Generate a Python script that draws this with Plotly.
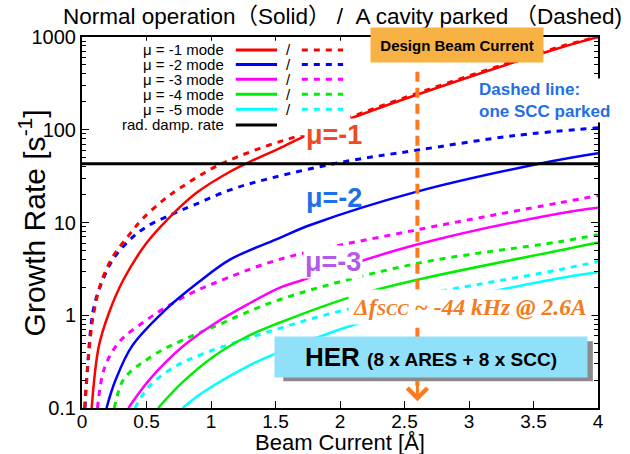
import plotly.graph_objects as go

# Beam current [A] vs growth rate [1/s]
# normal operation (solid)
mu1_x = [0.075, 0.13, 0.21, 0.32, 0.5, 0.66, 0.89, 1.15, 1.30, 1.53, 1.74, 2.16, 2.59, 3.7, 4.0]
mu1_y = [0.1, 0.46, 1.07, 2.4, 6.0, 10.7, 21, 35.5, 45, 63, 87, 145, 237, 760, 1000]
mu2_x = [0.19, 0.26, 0.39, 0.64, 0.90, 1.15, 1.53, 1.77, 2.59, 3.63, 4.0]
mu2_y = [0.1, 0.2, 0.47, 1.12, 2.25, 4.0, 6.8, 9.4, 21.4, 45.5, 56]
mu3_x = [0.36, 0.52, 0.78, 1.02, 1.28, 1.53, 1.71, 2.59, 3.7, 4.0]
mu3_y = [0.1, 0.2, 0.46, 0.80, 1.30, 1.97, 2.4, 5.75, 12.5, 14.4]
mu4_x = [0.59, 0.78, 1.02, 1.28, 1.53, 2.1, 2.59, 3.7, 4.0]
mu4_y = [0.1, 0.19, 0.36, 0.59, 0.83, 1.6, 2.4, 5.0, 6.1]
mu5_x = [0.78, 0.93, 1.28, 1.51, 2.23, 3.7, 4.0]
mu5_y = [0.1, 0.145, 0.28, 0.39, 0.89, 2.5, 2.9]

# one SCC parked (dashed)
mu1p_x = [0.02, 0.05, 0.088, 0.15, 0.24, 0.37, 0.47, 0.63, 0.76, 1.02, 1.22, 1.46, 1.69, 2.16, 2.59, 3.7, 4.0]
mu1p_y = [0.1, 0.35, 1.0, 2.3, 4.3, 7.5, 11, 17.4, 23.5, 39, 52, 69, 87, 150, 245, 780, 1000]
mu2p_x = [0.023, 0.036, 0.088, 0.15, 0.24, 0.37, 0.50, 0.71, 0.87, 1.15, 1.46, 2.05, 2.59, 3.34, 4.0]
mu2p_y = [0.1, 0.2, 1.15, 2.2, 4.0, 6.5, 9.0, 12.5, 15.5, 22.5, 30, 45.7, 60, 86, 105]
mu3p_x = [0.12, 0.17, 0.26, 0.33, 0.47, 0.62, 0.85, 1.02, 1.53, 2.59, 3.7, 4.0]
mu3p_y = [0.1, 0.26, 0.46, 0.59, 0.83, 1.15, 1.74, 2.2, 4.0, 8.3, 16.3, 19.5]
mu4p_x = [0.25, 0.31, 0.38, 0.47, 0.62, 0.78, 1.02, 1.53, 2.59, 3.7, 4.0]
mu4p_y = [0.1, 0.19, 0.25, 0.31, 0.42, 0.54, 0.75, 1.47, 3.6, 6.2, 7.4]
mu5p_x = [0.41, 0.52, 0.72, 0.93, 1.5, 2.05, 3.7, 4.0]
mu5p_y = [0.1, 0.17, 0.28, 0.38, 0.70, 1.15, 3.1, 3.8]

rad_damp_x = [0, 4]
rad_damp_y = [43, 43]

DESIGN_CURRENT = 2.6

modes = [
    ('\u03bc = -1 mode', '#ff0000', mu1_x, mu1_y, mu1p_x, mu1p_y),
    ('\u03bc = -2 mode', '#0000ff', mu2_x, mu2_y, mu2p_x, mu2p_y),
    ('\u03bc = -3 mode', '#ff00ff', mu3_x, mu3_y, mu3p_x, mu3p_y),
    ('\u03bc = -4 mode', '#00ee00', mu4_x, mu4_y, mu4p_x, mu4p_y),
    ('\u03bc = -5 mode', '#00ffff', mu5_x, mu5_y, mu5p_x, mu5p_y),
]

FONT = 'Liberation Sans, Arial, Noto Sans CJK JP, sans-serif'
DASH = '6px,6px'

fig = go.Figure()

# dashed first so the solid lines sit on top
for name, color, sx, sy, dx, dy in reversed(modes):
    fig.add_trace(go.Scatter(x=dx, y=dy, mode='lines', line_shape='spline',
                             line=dict(color=color, width=3, dash=DASH),
                             name=name + ' (parked)'))
for name, color, sx, sy, dx, dy in reversed(modes):
    fig.add_trace(go.Scatter(x=sx, y=sy, mode='lines', line_shape='spline',
                             line=dict(color=color, width=2.5), name=name))

fig.add_trace(go.Scatter(x=rad_damp_x, y=rad_damp_y, mode='lines',
                         line=dict(color='black', width=3), name='rad. damp. rate'))

shapes = []
annotations = []

# hand-made legend (solid / dashed per entry), paper coordinates
shapes.append(dict(type='rect', xref='paper', yref='paper', x0=0.06, x1=0.52,
                   y0=0.735, y1=0.99, fillcolor='white', line_width=0, layer='above'))
row_y = [0.965, 0.926, 0.886, 0.846, 0.805]
for (name, color, *_), ry in zip(modes, row_y):
    annotations.append(dict(text=name, xref='paper', yref='paper', x=0.279, y=ry,
                            xanchor='right', yanchor='middle', showarrow=False,
                            font=dict(family=FONT, size=15, color='black')))
    shapes.append(dict(type='line', xref='paper', yref='paper', x0=0.298, x1=0.378,
                       y0=ry, y1=ry, line=dict(color=color, width=3), layer='above'))
    annotations.append(dict(text='/', xref='paper', yref='paper', x=0.401, y=ry,
                            xanchor='center', yanchor='middle', showarrow=False,
                            font=dict(family=FONT, size=15, color='black')))
    shapes.append(dict(type='line', xref='paper', yref='paper', x0=0.426, x1=0.506,
                       y0=ry, y1=ry, line=dict(color=color, width=3, dash=DASH), layer='above'))
annotations.append(dict(text='rad. damp. rate', xref='paper', yref='paper', x=0.279, y=0.763,
                        xanchor='right', yanchor='middle', showarrow=False,
                        font=dict(family=FONT, size=15, color='black')))
shapes.append(dict(type='line', xref='paper', yref='paper', x0=0.298, x1=0.378,
                   y0=0.763, y1=0.763, line=dict(color='black', width=3), layer='above'))

# design current marker
shapes.append(dict(type='line', xref='x', yref='paper', x0=DESIGN_CURRENT, x1=DESIGN_CURRENT,
                   y0=0.06, y1=0.92, line=dict(color='#ff7a1a', width=4, dash='10px,6px'),
                   layer='above'))
annotations.append(dict(text='', x=DESIGN_CURRENT, xref='x', y=0.018, yref='paper',
                        ax=0, ay=-22, showarrow=True, arrowhead=4, arrowsize=1.3,
                        arrowwidth=3, arrowcolor='#ff7a1a'))

# HER box shadow
shapes.append(dict(type='rect', xref='paper', yref='paper', x0=0.39, x1=0.99,
                   y0=0.072, y1=0.18, fillcolor='#8a8a8a', line_width=0, layer='above'))

annotations += [
    dict(text='Normal operation\uff08Solid\uff09 /  A cavity parked \uff08Dashed)',
         xref='paper', yref='paper', x=0.505, y=1.054, xanchor='center', yanchor='middle',
         showarrow=False, font=dict(family=FONT, size=22.5, color='black')),
    dict(text='<b>Design Beam Current</b>', xref='paper', yref='paper', x=0.727, y=0.978,
         xanchor='center', yanchor='middle', showarrow=False, bgcolor='#f8b243',
         width=170, height=32, font=dict(family=FONT, size=15, color='black')),
    dict(text='<b>Dashed line:<br>one SCC parked</b>', xref='paper', yref='paper', x=0.765, y=0.83,
         xanchor='left', yanchor='middle', align='left', showarrow=False, bgcolor='white',
         font=dict(family=FONT, size=17, color='#1f6fe6')),
    dict(text='<b>\u03bc=-1</b>', xref='paper', yref='paper', x=0.489, y=0.735,
         xanchor='center', yanchor='middle', showarrow=False, bgcolor='white',
         font=dict(family=FONT, size=27, color='#ef4a24')),
    dict(text='<b>\u03bc=-2</b>', xref='paper', yref='paper', x=0.489, y=0.566,
         xanchor='center', yanchor='middle', showarrow=False,
         font=dict(family=FONT, size=27, color='#1f6fe6')),
    dict(text='<b>\u03bc=-3</b>', xref='paper', yref='paper', x=0.487, y=0.394,
         xanchor='center', yanchor='middle', showarrow=False, bgcolor='white',
         font=dict(family=FONT, size=27, color='#b45ae8')),
    dict(text="<b><i>\u0394f<span style='font-size:17px'>SCC</span> ~ -44 kHz @ 2.6A</i></b>",
         xref='paper', yref='paper', x=0.752, y=0.272, xanchor='center', yanchor='middle',
         showarrow=False, bgcolor='white', borderpad=4,
         font=dict(family='Liberation Serif, Times New Roman, serif', size=23.5, color='#f47b20')),
    dict(text="<b>HER <span style='font-size:19px'>(8 x ARES + 8 x SCC)</span></b>",
         xref='paper', yref='paper', x=0.677, y=0.137, xanchor='center', yanchor='middle',
         showarrow=False, bgcolor='#91e0f9', width=310, height=38,
         font=dict(family=FONT, size=26, color='black')),
    # axis titles placed by hand
    dict(text='Beam Current [\u00c5]', xref='paper', yref='paper', x=0.5, y=-0.093,
         xanchor='center', yanchor='middle', showarrow=False,
         font=dict(family=FONT, size=22, color='black')),
    dict(text='Growth Rate [s<sup>-1</sup>]', xref='paper', yref='paper', x=-0.097, y=0.5,
         xanchor='center', yanchor='middle', textangle=-90, showarrow=False,
         font=dict(family=FONT, size=30, color='black')),
]

minor_vals = [m * 10 ** e for e in range(-1, 3) for m in range(2, 10)]

fig.update_layout(
    width=630, height=454,
    margin=dict(l=82, r=32, t=37, b=46),
    paper_bgcolor='white', plot_bgcolor='white',
    showlegend=False,
    shapes=shapes,
    annotations=annotations,
    font=dict(family=FONT, color='black'),
)
fig.update_xaxes(
    range=[0, 4], tickvals=[0, 0.5, 1, 1.5, 2, 2.5, 3, 3.5, 4], automargin=False,
    ticks='inside', ticklen=7, tickcolor='black', showgrid=False, zeroline=False,
    showline=True, linecolor='black', linewidth=2, mirror='allticks',
    tickfont=dict(size=19), ticklabelstandoff=-5,
)
fig.update_yaxes(
    type='log', range=[-1, 3], tickvals=[0.1, 1, 10, 100, 1000], automargin=False,
    ticktext=['0.1', '1', '10', '100', '1000'],
    ticks='inside', ticklen=7, tickcolor='black', showgrid=False, zeroline=False,
    showline=True, linecolor='black', linewidth=2, mirror='allticks',
    minor=dict(tickvals=minor_vals, ticks='inside', ticklen=4, tickcolor='black', showgrid=False),
    tickfont=dict(size=20),
)

# the page's default body margin would shift the whole chart by 8px
fig.write_html("out.html", config={'displayModeBar': False},
               post_script="document.body.style.margin='0px';")
